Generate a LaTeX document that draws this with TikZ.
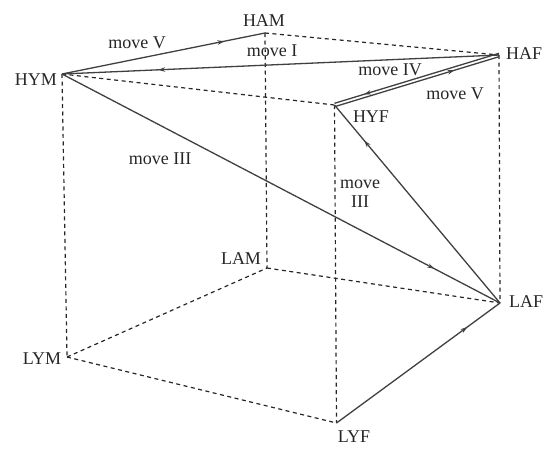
\documentclass[tikz,border=0pt]{standalone}
\usepackage{fontspec}
\setmainfont{Liberation Serif}
\usetikzlibrary{arrows.meta,decorations.markings}
\tikzset{
  edge/.style={line width=1.3pt, draw=black!75},
  hidden/.style={line width=1.2pt, dash pattern=on 4pt off 3.5pt, draw=black!85},
  midarrow/.style={postaction={decorate}, decoration={markings,
      mark=at position #1 with {\arrow{Stealth[length=7pt,width=4.5pt]}}}},
  lbl/.style={font=\fontsize{18}{19}\selectfont, inner sep=0pt, text=black!85},
}
\begin{document}
\begin{tikzpicture}[x=1pt,y=-1pt]
\useasboundingbox (0,0) rectangle (545,448);
% corners
\coordinate (HYM) at (62,74);
\coordinate (HAM) at (265,33);
\coordinate (HAF) at (499,55);
\coordinate (HYF) at (334.5,105);
\coordinate (LYM) at (67,357);
\coordinate (LAM) at (267,268);
\coordinate (LAF) at (500,303);
\coordinate (LYF) at (336.5,423);
% hidden edges
\draw[hidden] (HAM) -- (HAF);
\draw[hidden] (HYM) -- (HYF);
\draw[hidden] (HYM) -- (LYM);
\draw[hidden] (HAM) -- (LAM);
\draw[hidden] (HAF) -- (LAF);
\draw[hidden] (HYF) -- (LYF);
\draw[hidden] (LYM) -- (LAM);
\draw[hidden] (LAM) -- (LAF);
\draw[hidden] (LYM) -- (LYF);
% moves
\draw[edge, midarrow=0.8] (HYM) -- (HAM);
\draw[edge, midarrow=0.78] (HAF) -- (HYM);
\draw[edge, midarrow=0.85] (HYM) -- (LAF);
\draw[edge, midarrow=0.82] (LAF) -- (HYF);
\draw[edge, midarrow=0.8] (LYF) -- (LAF);
\draw[edge, midarrow=0.73] ([yshift=-1.7pt]HYF) -- ([yshift=-1.7pt]HAF);
\draw[edge, midarrow=0.82] ([yshift=1.7pt]HAF) -- ([yshift=1.7pt]HYF);
% corner labels
\node[lbl, anchor=east] (tHYM) at (57,80) {HYM};
\node[lbl] (tHAM) at (264,21) {HAM};
\node[lbl, anchor=west] (tHAF) at (506,54) {HAF};
\node[lbl] (tHYF) at (371,117) {HYF};
\node[lbl] (tLAM) at (241,259) {LAM};
\node[lbl] (tLYM) at (42,359) {LYM};
\node[lbl, anchor=west] (tLAF) at (509,302) {LAF};
\node[lbl] (tLYF) at (354,437) {LYF};
% move labels
\node[lbl] (mV1) at (137,43) {move V};
\node[lbl] (mI) at (272,51) {move I};
\node[lbl] (mIV) at (390,70) {move IV};
\node[lbl] (mV2) at (455,94) {move V};
\node[lbl] (mIII1) at (160,159) {move III};
\node[lbl, align=center] (mIII2) at (360,194) {move\\III};
\end{tikzpicture}
\end{document}
